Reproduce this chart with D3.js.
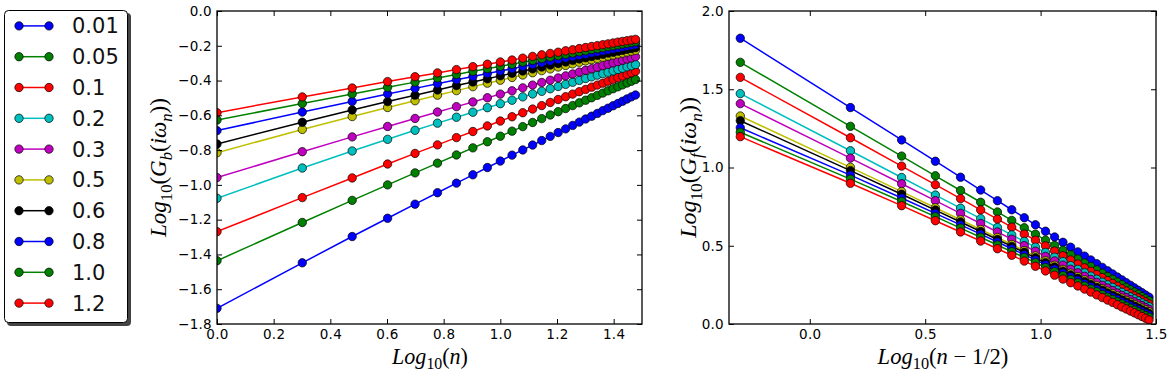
<!DOCTYPE html>
<html>
<head>
<meta charset="utf-8">
<script src="https://cdn.jsdelivr.net/npm/d3@7"></script>
<style>
  body { margin: 0; background: #fff; }
  svg { display: block; }
</style>
</head>
<body>
<svg id="chart"></svg>
<script>
// параметры серий (легенда) и цвета в стиле matplotlib
const params = ["0.01", "0.05", "0.1", "0.2", "0.3", "0.5", "0.6", "0.8", "1.0", "1.2"];
const colors = ["#0000ff", "#008000", "#ff0000", "#00bfbf", "#bf00bf", "#bfbf00", "#000000", "#0000ff", "#008000", "#ff0000"];

// номера мацубаровских частот
const nValues = [1, 2, 3, 4, 5, 6, 7, 8, 9, 10, 11, 12, 13, 14, 15, 16, 17, 18, 19, 20, 21, 22, 23, 24, 25, 26, 27, 28, 29, 30];

// Log10(G_b(iw_n)) — левый график, по одной строке на параметр
const gbValues = [
  [-1.710, -1.448, -1.297, -1.192, -1.111, -1.045, -0.990, -0.942, -0.900, -0.863, -0.829, -0.799, -0.771, -0.745, -0.721, -0.699, -0.678, -0.658, -0.639, -0.621, -0.605, -0.589, -0.573, -0.559, -0.545, -0.532, -0.519, -0.506, -0.494, -0.483], // 0.01
  [-1.436, -1.216, -1.089, -1.000, -0.931, -0.875, -0.828, -0.787, -0.752, -0.720, -0.691, -0.665, -0.641, -0.619, -0.598, -0.579, -0.561, -0.544, -0.528, -0.513, -0.499, -0.485, -0.472, -0.459, -0.447, -0.436, -0.425, -0.414, -0.404, -0.394], // 0.05
  [-1.269, -1.073, -0.960, -0.880, -0.819, -0.770, -0.728, -0.693, -0.661, -0.633, -0.608, -0.585, -0.564, -0.544, -0.526, -0.509, -0.493, -0.478, -0.464, -0.451, -0.438, -0.426, -0.415, -0.404, -0.393, -0.383, -0.374, -0.364, -0.355, -0.347], // 0.1
  [-1.077, -0.903, -0.805, -0.738, -0.686, -0.645, -0.611, -0.582, -0.556, -0.533, -0.513, -0.494, -0.477, -0.462, -0.447, -0.434, -0.422, -0.410, -0.399, -0.388, -0.379, -0.369, -0.360, -0.352, -0.344, -0.336, -0.329, -0.321, -0.315, -0.308], // 0.2
  [-0.958, -0.809, -0.724, -0.664, -0.618, -0.581, -0.550, -0.523, -0.499, -0.478, -0.459, -0.442, -0.426, -0.411, -0.398, -0.385, -0.373, -0.362, -0.351, -0.341, -0.332, -0.323, -0.314, -0.306, -0.298, -0.291, -0.283, -0.276, -0.270, -0.263], // 0.3
  [-0.815, -0.681, -0.607, -0.555, -0.516, -0.484, -0.458, -0.435, -0.415, -0.398, -0.382, -0.368, -0.355, -0.343, -0.333, -0.322, -0.313, -0.304, -0.295, -0.287, -0.280, -0.273, -0.266, -0.259, -0.253, -0.247, -0.242, -0.236, -0.231, -0.226], // 0.5
  [-0.765, -0.640, -0.569, -0.521, -0.484, -0.454, -0.429, -0.408, -0.390, -0.373, -0.358, -0.345, -0.333, -0.322, -0.311, -0.302, -0.293, -0.284, -0.276, -0.269, -0.262, -0.255, -0.249, -0.242, -0.237, -0.231, -0.226, -0.220, -0.216, -0.211], // 0.6
  [-0.688, -0.581, -0.520, -0.477, -0.445, -0.418, -0.396, -0.377, -0.360, -0.345, -0.332, -0.319, -0.308, -0.298, -0.288, -0.279, -0.271, -0.263, -0.256, -0.249, -0.242, -0.236, -0.230, -0.224, -0.219, -0.213, -0.208, -0.203, -0.199, -0.194], // 0.8
  [-0.627, -0.532, -0.477, -0.439, -0.409, -0.385, -0.365, -0.347, -0.332, -0.318, -0.306, -0.294, -0.284, -0.274, -0.265, -0.257, -0.249, -0.242, -0.235, -0.229, -0.222, -0.216, -0.211, -0.205, -0.200, -0.195, -0.190, -0.186, -0.181, -0.177], // 1.0
  [-0.585, -0.494, -0.443, -0.406, -0.378, -0.356, -0.337, -0.320, -0.306, -0.293, -0.282, -0.271, -0.261, -0.252, -0.244, -0.237, -0.229, -0.223, -0.216, -0.210, -0.204, -0.199, -0.194, -0.189, -0.184, -0.179, -0.175, -0.171, -0.167, -0.163]  // 1.2
];

// Log10(G_f(iw_n)) — правый график
const gfValues = [
  [1.826, 1.383, 1.176, 1.040, 0.938, 0.856, 0.788, 0.730, 0.679, 0.634, 0.593, 0.556, 0.522, 0.491, 0.461, 0.434, 0.409, 0.385, 0.362, 0.340, 0.320, 0.300, 0.282, 0.264, 0.247, 0.231, 0.215, 0.200, 0.185, 0.171], // 0.01
  [1.672, 1.263, 1.073, 0.947, 0.853, 0.778, 0.716, 0.662, 0.615, 0.574, 0.536, 0.502, 0.471, 0.442, 0.415, 0.390, 0.367, 0.345, 0.324, 0.304, 0.286, 0.268, 0.251, 0.234, 0.219, 0.204, 0.190, 0.175, 0.162, 0.149], // 0.05
  [1.576, 1.190, 1.009, 0.890, 0.801, 0.729, 0.670, 0.619, 0.574, 0.535, 0.499, 0.466, 0.436, 0.409, 0.383, 0.359, 0.337, 0.316, 0.296, 0.277, 0.259, 0.242, 0.225, 0.210, 0.195, 0.180, 0.167, 0.153, 0.141, 0.128], // 0.1
  [1.472, 1.107, 0.936, 0.824, 0.740, 0.673, 0.617, 0.569, 0.528, 0.491, 0.457, 0.427, 0.399, 0.373, 0.349, 0.327, 0.306, 0.286, 0.267, 0.250, 0.234, 0.217, 0.202, 0.187, 0.173, 0.160, 0.147, 0.134, 0.122, 0.111], // 0.2
  [1.408, 1.060, 0.896, 0.788, 0.707, 0.642, 0.588, 0.542, 0.501, 0.465, 0.432, 0.403, 0.376, 0.350, 0.327, 0.305, 0.285, 0.266, 0.247, 0.230, 0.214, 0.198, 0.183, 0.169, 0.155, 0.142, 0.129, 0.117, 0.105, 0.094], // 0.3
  [1.329, 1.001, 0.846, 0.743, 0.666, 0.604, 0.553, 0.508, 0.469, 0.435, 0.404, 0.375, 0.349, 0.325, 0.303, 0.282, 0.262, 0.244, 0.226, 0.210, 0.194, 0.179, 0.165, 0.151, 0.138, 0.125, 0.113, 0.101, 0.090, 0.079], // 0.5
  [1.299, 0.980, 0.829, 0.728, 0.652, 0.591, 0.540, 0.496, 0.458, 0.423, 0.392, 0.364, 0.338, 0.314, 0.292, 0.271, 0.252, 0.233, 0.216, 0.199, 0.183, 0.168, 0.154, 0.140, 0.127, 0.114, 0.102, 0.090, 0.079, 0.068], // 0.6
  [1.254, 0.951, 0.805, 0.707, 0.633, 0.574, 0.524, 0.481, 0.443, 0.410, 0.379, 0.351, 0.326, 0.302, 0.280, 0.259, 0.240, 0.222, 0.204, 0.188, 0.172, 0.158, 0.143, 0.130, 0.117, 0.104, 0.092, 0.080, 0.069, 0.058], // 0.8
  [1.225, 0.926, 0.783, 0.686, 0.613, 0.554, 0.505, 0.462, 0.425, 0.392, 0.361, 0.334, 0.309, 0.285, 0.263, 0.243, 0.224, 0.206, 0.188, 0.172, 0.157, 0.142, 0.128, 0.114, 0.101, 0.089, 0.077, 0.065, 0.054, 0.043], // 1.0
  [1.197, 0.899, 0.756, 0.660, 0.588, 0.530, 0.481, 0.439, 0.402, 0.369, 0.339, 0.312, 0.287, 0.264, 0.243, 0.223, 0.204, 0.186, 0.169, 0.153, 0.138, 0.123, 0.109, 0.096, 0.083, 0.071, 0.059, 0.048, 0.037, 0.026]  // 1.2
];

// деления осей
const leftXTicks = [0, 0.2, 0.4, 0.6, 0.8, 1.0, 1.2, 1.4];
const leftYTicks = [-1.8, -1.6, -1.4, -1.2, -1.0, -0.8, -0.6, -0.4, -0.2, 0.0];
const rightXTicks = [0, 0.5, 1.0, 1.5];
const rightYTicks = [0, 0.5, 1.0, 1.5, 2.0];

const width = 1171;
const height = 373;

const svg = d3.select("#chart")
    .attr("width", width)
    .attr("height", height);

// подпись в стиле mathtext: [текст, курсив, нижний индекс]
function mathLabel(parent, parts, size) {
    const t = parent.append("text")
        .attr("font-family", "'Liberation Serif', serif")
        .attr("text-anchor", "middle")
        .attr("fill", "#000");
    let shift = 0;
    parts.forEach(([str, italic, sub]) => {
        const target = sub ? size * 0.24 : 0;
        t.append("tspan")
            .text(str)
            .attr("font-style", italic ? "italic" : "normal")
            .attr("font-size", sub ? size * 0.72 : size)
            .attr("dy", target - shift);
        shift = target;
    });
    return t;
}

// подгоняем размер шрифта под нужную ширину подписи
function fittedLabel(transform, parts, targetWidth) {
    const g = svg.append("g").attr("transform", transform);
    const probe = mathLabel(g, parts, 20);
    const w = probe.node().getBBox().width;
    probe.remove();
    return mathLabel(g, parts, 20 * targetWidth / w);
}

function drawPanel(p) {
    const x = d3.scaleLinear().domain(p.xDomain).range([p.left, p.right]);
    const y = d3.scaleLinear().domain(p.yDomain).range([p.bottom, p.top]);
    const fmt = d3.format(".1f");

    svg.append("clipPath").attr("id", "clip-" + p.name)
        .append("rect")
        .attr("x", p.left).attr("y", p.top)
        .attr("width", p.right - p.left).attr("height", p.bottom - p.top);

    const plot = svg.append("g").attr("clip-path", `url(#clip-${p.name})`);

    const line = d3.line()
        .x((d, i) => x(p.xs[i]))
        .y(d => y(d));

    // каждая серия: линия, затем маркеры (как в matplotlib)
    p.values.forEach((vals, k) => {
        plot.append("path")
            .datum(vals)
            .attr("fill", "none")
            .attr("stroke", colors[k])
            .attr("stroke-width", 1.5)
            .attr("d", line);
        plot.append("g").selectAll("circle")
            .data(vals)
            .join("circle")
            .attr("cx", (d, i) => x(p.xs[i]))
            .attr("cy", d => y(d))
            .attr("r", 4.2)
            .attr("fill", colors[k])
            .attr("stroke", "#000")
            .attr("stroke-width", 0.7);
    });

    const styleAxis = a => {
        a.select(".domain").remove();
        a.attr("font-size", 13.5).attr("font-family", "'DejaVu Sans', sans-serif");
        a.selectAll("text").attr("fill", "#000").attr("letter-spacing", "0.3px");
        a.selectAll("line").attr("stroke", "#000").attr("stroke-width", 1);
    };

    // нижняя и левая оси с подписями, верхняя и правая — только засечки внутрь
    svg.append("g")
        .attr("transform", `translate(0, ${p.bottom})`)
        .call(d3.axisBottom(x).tickValues(p.xTicks).tickFormat(fmt).tickSizeInner(-5).tickSizeOuter(0).tickPadding(5))
        .call(styleAxis);
    svg.append("g")
        .attr("transform", `translate(${p.left}, 0)`)
        .call(d3.axisLeft(y).tickValues(p.yTicks).tickFormat(fmt).tickSizeInner(-5).tickSizeOuter(0).tickPadding(5))
        .call(styleAxis);
    svg.append("g")
        .attr("transform", `translate(0, ${p.top})`)
        .call(d3.axisTop(x).tickValues(p.xTicks).tickFormat("").tickSizeInner(-5).tickSizeOuter(0))
        .call(styleAxis);
    svg.append("g")
        .attr("transform", `translate(${p.right}, 0)`)
        .call(d3.axisRight(y).tickValues(p.yTicks).tickFormat("").tickSizeInner(-5).tickSizeOuter(0))
        .call(styleAxis);

    // рамка
    svg.append("rect")
        .attr("x", p.left).attr("y", p.top)
        .attr("width", p.right - p.left).attr("height", p.bottom - p.top)
        .attr("fill", "none")
        .attr("stroke", "#000")
        .attr("stroke-width", 1.3);
}

drawPanel({
    name: "gb",
    left: 217, right: 642, top: 11, bottom: 324,
    xDomain: [0, 1.5], yDomain: [-1.8, 0],
    xs: nValues.map(n => Math.log10(n)),
    values: gbValues,
    xTicks: leftXTicks, yTicks: leftYTicks
});

drawPanel({
    name: "gf",
    left: 729, right: 1156, top: 11, bottom: 324,
    xDomain: [-0.35, 1.5], yDomain: [0, 2.0],
    xs: nValues.map(n => Math.log10(n - 0.5)),
    values: gfValues,
    xTicks: rightXTicks, yTicks: rightYTicks
});

// подписи осей
fittedLabel("translate(430, 364)",
    [["Log", 1, 0], ["10", 0, 1], ["(", 0, 0], ["n", 1, 0], [")", 0, 0]], 77);
fittedLabel("translate(943, 364)",
    [["Log", 1, 0], ["10", 0, 1], ["(", 0, 0], ["n", 1, 0], [" − 1/2)", 0, 0]], 132);
fittedLabel("translate(166, 167.5) rotate(-90)",
    [["Log", 1, 0], ["10", 0, 1], ["(", 0, 0], ["G", 1, 0], ["b", 1, 1], ["(", 0, 0], ["iω", 1, 0], ["n", 1, 1], ["))", 0, 0]], 140);
fittedLabel("translate(696, 167.5) rotate(-90)",
    [["Log", 1, 0], ["10", 0, 1], ["(", 0, 0], ["G", 1, 0], ["f", 1, 1], ["(", 0, 0], ["iω", 1, 0], ["n", 1, 1], ["))", 0, 0]], 142);

// легенда
const legend = svg.append("g");
legend.append("rect")
    .attr("x", 7).attr("y", 13).attr("width", 124).attr("height", 313).attr("rx", 4)
    .attr("fill", "#444");
legend.append("rect")
    .attr("x", 4.5).attr("y", 10.5).attr("width", 123).attr("height", 312).attr("rx", 4)
    .attr("fill", "#fff").attr("stroke", "#000").attr("stroke-width", 1);

const rowY = d3.scaleBand().domain(params).range([10.5, 318.5]);

const rows = legend.selectAll("g.row")
    .data(params)
    .join("g")
    .attr("class", "row")
    .attr("transform", d => `translate(0, ${rowY(d) + rowY.bandwidth() / 2})`);

rows.append("line")
    .attr("x1", 19).attr("x2", 49)
    .attr("stroke", (d, i) => colors[i])
    .attr("stroke-width", 1.5);
rows.selectAll("circle")
    .data((d, i) => [i, i])
    .join("circle")
    .attr("cx", (d, j) => j === 0 ? 19 : 49)
    .attr("r", 4.2)
    .attr("fill", d => colors[d])
    .attr("stroke", "#000")
    .attr("stroke-width", 0.7);
rows.append("text")
    .attr("x", 72)
    .attr("dy", "0.36em")
    .attr("font-family", "'DejaVu Sans', sans-serif")
    .attr("font-size", 21)
    .attr("fill", "#111")
    .text(d => d);
</script>
</body>
</html>
